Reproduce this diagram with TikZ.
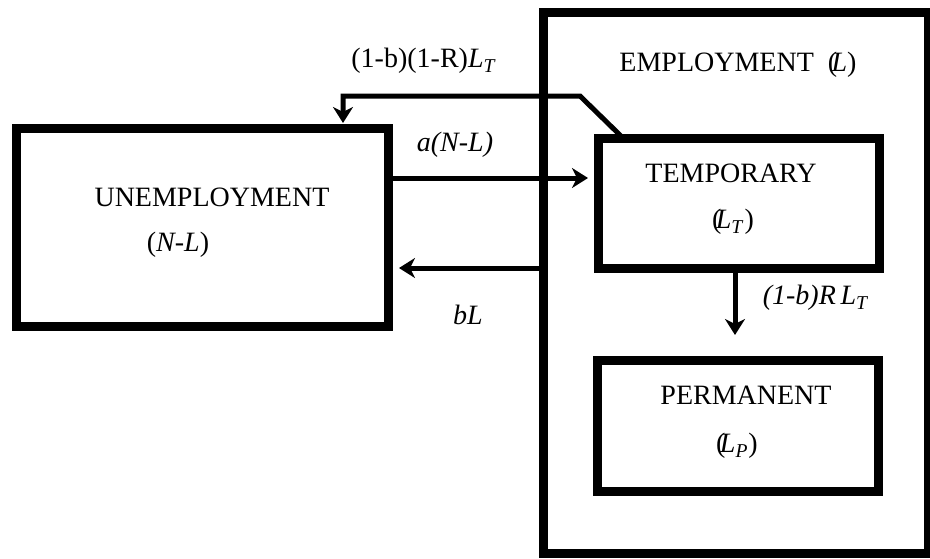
\documentclass[tikz,border=0pt]{standalone}
\usepackage{fontspec}
\setmainfont{Liberation Serif}
\usetikzlibrary{arrows.meta}

\tikzset{
  box/.style={draw, line width=4.5pt, outer sep=0pt, inner sep=0pt},
  flow/.style={line width=2.5pt, -{Stealth[length=8pt,width=10pt,inset=2.5pt]}},
  lbl/.style={inner sep=0pt, font=\fontsize{14}{17}\selectfont},
}
\newcommand{\Lsub}[1]{\textit{L}\textsubscript{\textit{#1}}}

\begin{document}
\begin{tikzpicture}[x=0.5pt,y=-0.5pt]
			\useasboundingbox (0,0) rectangle (930,558);
			
			% boxes
			\node[box, minimum width=192.5pt, minimum height=270.5pt] (emp) at (735.5,282.5) {};
			\node[box, minimum width=186pt, minimum height=99pt] (unemp) at (202,227) {};
			\node[box, minimum width=140.5pt, minimum height=65pt] (temp) at (738.5,203) {};
			\node[box, minimum width=140.5pt, minimum height=65.5pt] (perm) at (737.5,425.5) {};
			
			% texts
			\node[lbl] (empname) at (738,65) {EMPLOYMENT\ \ (\kern-0.2em\textit{L})};
			\node[lbl] (unempname) at (212,197) {UNEMPLOYMENT};
			\node[lbl] (unempsym) at (178,245) {(\textit{N-L})};
			\node[lbl] (tempname) at (731,173) {TEMPORARY};
			\node[lbl] (tempsym) at (733,222) {(\kern-0.2em\Lsub{T})};
			\node[lbl] (permname) at (746,395) {PERMANENT};
			\node[lbl] (permsym) at (737,446) {(\kern-0.2em\Lsub{P})};
			
			% flows
			\coordinate (aRow) at (0,178);
			\coordinate (bRow) at (0,268);
			\coordinate (rTip) at (735,335);
			\coordinate (bend) at (580,96);
			\coordinate (drop) at (343,96);
			
			\draw[flow, shorten >=5pt] (unemp.east |- aRow) -- (temp.west |- aRow);
			\draw[flow, shorten >=5.5pt] (emp.west |- bRow) -- (unemp.east |- bRow);
			\draw[flow] (temp.south -| rTip) -- (rTip);
			\draw[flow, shorten >=2.5pt] ([xshift=12.5pt]temp.north west) -- (bend) -- (drop) -- (unemp.north -| drop);
			
			\node[lbl] (retlbl) at (424,61) {(1-b)(1-R)\Lsub{T}};
			\node[lbl] (alabel) at (455,145) {\textit{a(N-L)}};
			\node[lbl] (blabel) at (468,315) {\textit{bL}};
			\node[lbl] (rlabel) at (816,298) {\textit{(1-b)R\,}\Lsub{T}};
		\end{tikzpicture}
\end{document}
